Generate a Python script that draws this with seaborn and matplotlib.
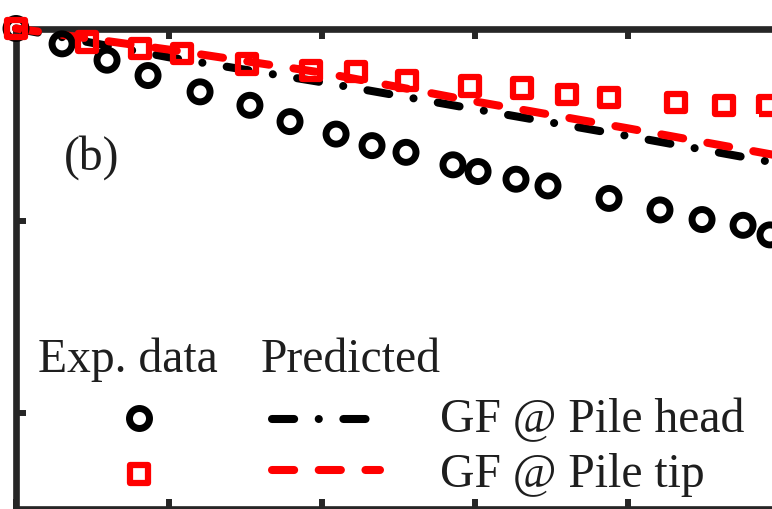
import numpy as np
import pandas as pd
import matplotlib
matplotlib.use("Agg")
import matplotlib.pyplot as plt
from matplotlib.lines import Line2D
from matplotlib.markers import MarkerStyle
import seaborn as sns

# Measured response at the pile head (black circles) and pile tip (red squares)
head_x = [0.0, 3.01, 5.95, 8.63, 12.03, 15.29, 17.91, 20.92, 23.27, 25.49,
          28.56, 30.20, 32.68, 34.77, 38.76, 42.09, 44.84, 47.52, 49.28]
head_y = [1.000, 0.984, 0.967, 0.951, 0.934, 0.920, 0.903, 0.890, 0.878, 0.871,
          0.858, 0.851, 0.843, 0.836, 0.823, 0.811, 0.801, 0.795, 0.785]
tip_x = [0.0, 4.64, 8.10, 10.85, 15.10, 19.28, 22.22, 25.56, 29.67, 33.07,
         36.01, 38.76, 43.14, 46.27, 49.15]
tip_y = [1.000, 0.986, 0.979, 0.974, 0.963, 0.956, 0.955, 0.946, 0.940, 0.938,
         0.931, 0.928, 0.923, 0.920, 0.920]

# GF model predictions
pred_x = [0, 10, 20, 30, 40, 50, 60]
pred_head_y = [1.000, 0.970, 0.944, 0.916, 0.888, 0.859, 0.830]
pred_tip_y = [1.000, 0.978, 0.954, 0.924, 0.896, 0.867, 0.838]

x_ticks = [0, 10, 20, 30, 40, 50, 60]
y_ticks = [0.6, 0.8, 1.0]

header_labels = ["Exp. data", "Predicted"]
series_labels = ["GF @ Pile head", "GF @ Pile tip"]
panel_label = "(b)"

sns.set_theme(style="ticks")
plt.rcParams["font.family"] = ["Liberation Serif", "DejaVu Serif"]

W, H = 772, 510
fig = plt.figure(figsize=(W / 100, H / 100), dpi=100)

# axes extends past the right edge of the canvas
x0_px, top_px, bot_px = 16.0, 29.5, 509.5
px_per_unit = 15.3
xmax = 60
ax = fig.add_axes([x0_px / W, (H - bot_px) / H,
                   xmax * px_per_unit / W, (bot_px - top_px) / H])

ink = "#262626"
txt_ink = "#1e1e1e"
lw = 5.8
dash = 2.75
gap = 3.05
dashdot = (0, (dash, gap, 0.01, gap))
dashed = (0, (dash, gap))

pred = pd.DataFrame({"x": pred_x, "head": pred_head_y, "tip": pred_tip_y})
sns.lineplot(data=pred, x="x", y="head", ax=ax, color="black", lw=lw,
             linestyle=dashdot, dash_capstyle="round", clip_on=False, zorder=3)
sns.lineplot(data=pred, x="x", y="tip", ax=ax, color="red", lw=lw,
             linestyle=dashed, dash_capstyle="round", clip_on=False, zorder=4)

circ_ms, circ_mew = 14.4, 5.0
sq_ms, sq_mew = 12.4, 4.5
sq_marker = MarkerStyle("s", joinstyle="round")

exp_head = pd.DataFrame({"x": head_x, "y": head_y})
exp_tip = pd.DataFrame({"x": tip_x, "y": tip_y})
sns.scatterplot(data=exp_head, x="x", y="y", ax=ax, marker="o",
                s=circ_ms ** 2, facecolors="none", edgecolor="black",
                linewidth=circ_mew, clip_on=False, zorder=5)
sns.scatterplot(data=exp_tip, x="x", y="y", ax=ax, marker=sq_marker,
                s=sq_ms ** 2, facecolors="none", edgecolor="red",
                linewidth=sq_mew, clip_on=False, zorder=6)

ax.set_xlim(0, xmax)
ax.set_ylim(0.5, 1.0)
ax.set_xticks(x_ticks)
ax.set_yticks(y_ticks)
ax.set_xlabel("")
ax.set_ylabel("")
ax.tick_params(which="both", direction="in", length=7.5, width=4.3,
               color=ink, labelbottom=False, labelleft=False,
               top=True, right=True)
for sp in ax.spines.values():
    sp.set_visible(True)
    sp.set_linewidth(4.8)
    sp.set_color(ink)

fs = 34.3
txt = dict(fontsize=fs, color=txt_ink, va="baseline", ha="left")


def fx(px):
    return px / W


def fy(py):
    return (H - py) / H


fig.text(fx(64), fy(170), panel_label, **txt)
fig.text(fx(38), fy(372), header_labels[0], **txt)
fig.text(fx(261), fy(372), header_labels[1], **txt)
fig.text(fx(440), fy(432), series_labels[0], **txt)
fig.text(fx(440), fy(487), series_labels[1], **txt)

# legend keys
fig.add_artist(Line2D([fx(139)], [fy(419)], transform=fig.transFigure,
                      marker="o", ms=circ_ms, mew=circ_mew, mfc="none",
                      mec="black", ls=""))
fig.add_artist(Line2D([fx(139)], [fy(475)], transform=fig.transFigure,
                      marker=sq_marker, ms=sq_ms, mew=sq_mew, mfc="none",
                      mec="red", ls=""))
fig.add_artist(Line2D([fx(272), fx(366)], [fy(420), fy(420)],
                      transform=fig.transFigure, color="black", lw=lw,
                      linestyle=dashdot, dash_capstyle="round"))
fig.add_artist(Line2D([fx(272), fx(380)], [fy(471), fy(471)],
                      transform=fig.transFigure, color="red", lw=lw,
                      linestyle=dashed, dash_capstyle="round"))

fig.savefig("out.png", dpi=100)
